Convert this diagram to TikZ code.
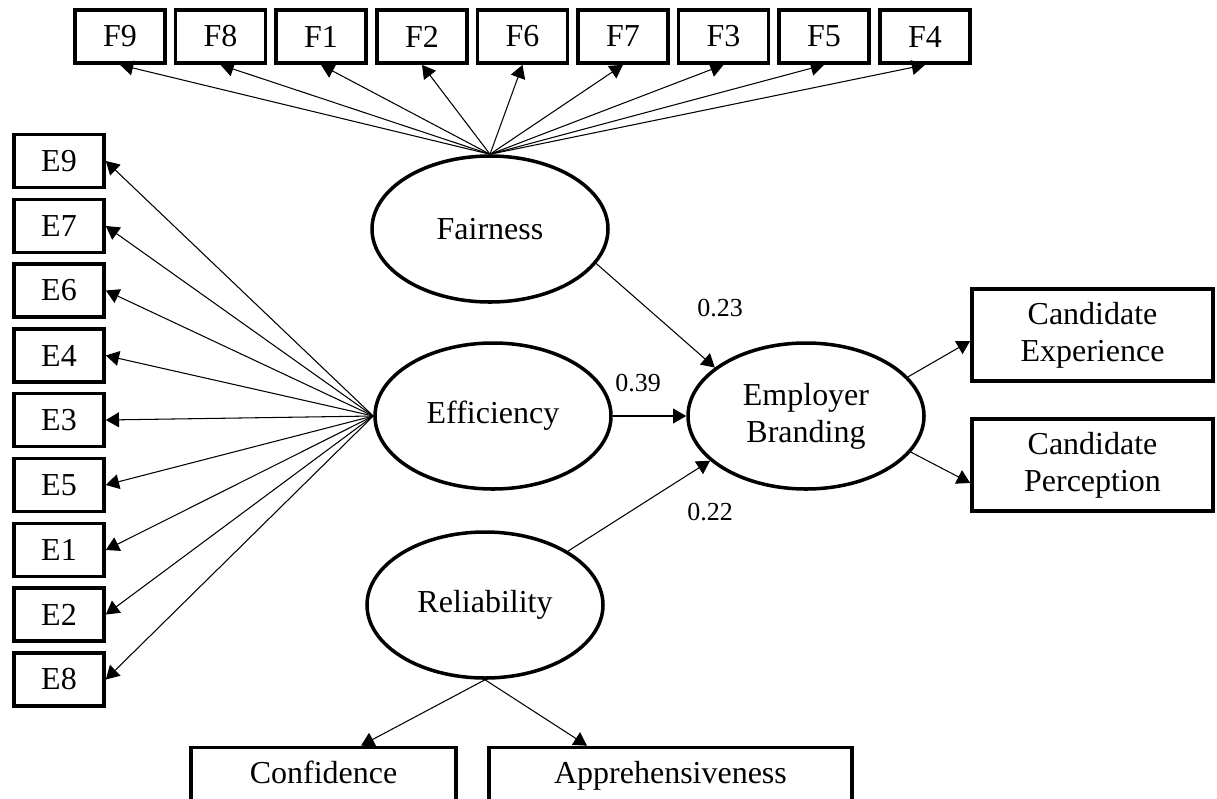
\documentclass[tikz,border=0pt]{standalone}
\usepackage{fontspec}
\setmainfont{Liberation Serif}
\usetikzlibrary{arrows.meta,shapes.geometric}

\tikzset{
  obs/.style={draw, rectangle, line width=2.1pt, inner sep=0pt, align=center,
              minimum width=1.8cm, minimum height=1.06cm,
              font=\fontsize{18.2}{21}\selectfont},
  latent/.style={draw, ellipse, line width=2pt, inner sep=0pt, align=center,
              minimum width=4.72cm, minimum height=2.92cm,
              font=\fontsize{18.2}{21}\selectfont},
  wt/.style={inner sep=0pt, font=\fontsize{14.8}{17}\selectfont}
}

\begin{document}
\begin{tikzpicture}[every edge/.style={draw, line width=0.6pt, -{Triangle[length=7.5pt,width=8.5pt]}}]
        \useasboundingbox (0,0) rectangle (24.34,-15.96);

        % fairness items
        \node[obs] (f9) at (2.40,-0.73) {F9};
        \node[obs] (f8) at (4.41,-0.73) {F8};
        \node[obs] (f1) at (6.42,-0.73) {F1};
        \node[obs] (f2) at (8.44,-0.73) {F2};
        \node[obs] (f6) at (10.45,-0.73) {F6};
        \node[obs] (f7) at (12.46,-0.73) {F7};
        \node[obs] (f3) at (14.47,-0.73) {F3};
        \node[obs] (f5) at (16.48,-0.73) {F5};
        \node[obs] (f4) at (18.50,-0.73) {F4};

        % efficiency items
        \node[obs] (e9) at (1.18,-3.22) {E9};
        \node[obs] (e7) at (1.18,-4.52) {E7};
        \node[obs] (e6) at (1.18,-5.81) {E6};
        \node[obs] (e4) at (1.18,-7.11) {E4};
        \node[obs] (e3) at (1.18,-8.40) {E3};
        \node[obs] (e5) at (1.18,-9.70) {E5};
        \node[obs] (e1) at (1.18,-11.00) {E1};
        \node[obs] (e2) at (1.18,-12.29) {E2};
        \node[obs] (e8) at (1.18,-13.59) {E8};

        % latent variables
        \node[latent] (fair) at (9.80,-4.58) {Fairness};
        \node[latent] (eff) at (9.86,-8.32) {Efficiency};
        \node[latent] (rel) at (9.70,-12.10) {Reliability};
        \node[latent] (eb) at (16.12,-8.32) {Employer\\Branding};

        % outcomes (bottom boxes run off the page)
        \node[obs, minimum width=4.82cm, minimum height=1.84cm] (ce) at (21.85,-6.70) {Candidate\\Experience};
        \node[obs, minimum width=4.82cm, minimum height=1.84cm] (cp) at (21.85,-9.30) {Candidate\\Perception};
        \node[obs, minimum width=5.30cm, minimum height=1.4cm,
              text height=0.66em, text depth=0.6em] (conf) at (6.47,-15.65) {Confidence};
        \node[obs, minimum width=7.26cm, minimum height=1.4cm,
              text height=0.66em, text depth=0.6em] (appr) at (13.41,-15.65) {Apprehensiveness};

        % path weights
        \node[wt] (w23) at (14.40,-6.16) {0.23};
        \node[wt] (w39) at (12.76,-7.66) {0.39};
        \node[wt] (w22) at (14.20,-10.24) {0.22};

        \path (fair.north) edge (f9.south)
              (fair.north) edge (f8.south)
              (fair.north) edge (f1.south)
              (fair.north) edge (f2.south)
              (fair.north) edge (f6.south)
              (fair.north) edge (f7.south)
              (fair.north) edge (f3.south)
              (fair.north) edge (f5.south)
              (fair.north) edge (f4.south);

        \path (eff.west) edge (e9.east)
              (eff.west) edge (e7.east)
              (eff.west) edge (e6.east)
              (eff.west) edge (e4.east)
              (eff.west) edge (e3.east)
              (eff.west) edge (e5.east)
              (eff.west) edge (e1.east)
              (eff.west) edge (e2.east)
              (eff.west) edge (e8.east);

        \path (fair.-18) edge (eb.152)
              (eff.east) edge (eb.west)
              (rel.33) edge (eb.205)
              (eb.21) edge ([yshift=-0.12cm]ce.west)
              (eb.-19) edge ([yshift=-0.36cm]cp.west)
              (rel.south) edge ([xshift=0.75cm]conf.north)
              (rel.south) edge ([xshift=-1.67cm]appr.north);
    \end{tikzpicture}
\end{document}
